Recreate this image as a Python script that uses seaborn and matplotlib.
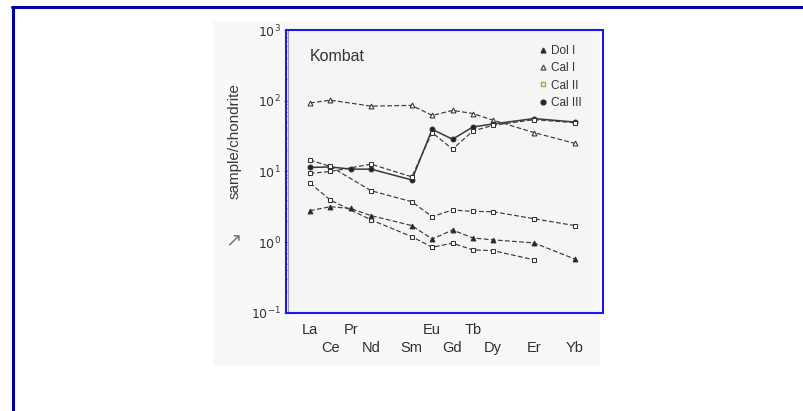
import numpy as np
import pandas as pd
import matplotlib
matplotlib.use("Agg")
import matplotlib.pyplot as plt
from matplotlib.lines import Line2D
from matplotlib.patches import Rectangle
import seaborn as sns

# ---- data ----
elements = ["La", "Ce", "Pr", "Nd", "Sm", "Eu", "Gd", "Tb", "Dy", "Er", "Yb"]
atomic_z = [57, 58, 59, 60, 62, 63, 64, 65, 66, 68, 70]
upper_row = ["La", "Pr", "Eu", "Tb"]
lower_row = ["Ce", "Nd", "Sm", "Gd", "Dy", "Er", "Yb"]

nan = np.nan
cal_i = [93, 102, nan, 84, 86, 62, 73, 66, 53, 35.5, 25]
cal_iii_a = [11.4, 11.6, 10.8, 10.8, 7.6, 39.5, 28.6, 42.6, 47, 56, 50]
cal_iii_b = [9.4, 10.0, nan, 12.7, 8.4, 35.5, 20.7, 37.4, 45, 54, 49]
cal_ii_a = [14.5, 11.8, nan, 5.35, 3.74, 2.3, 2.86, 2.73, 2.7, 2.15, 1.72]
cal_ii_b = [6.86, 3.95, nan, 2.07, 1.2, 0.85, 0.97, 0.78, 0.76, 0.565, nan]
dol_i = [2.8, 3.18, 3.0, 2.38, 1.72, 1.11, 1.49, 1.15, 1.08, 0.98, 0.58]

legend_labels = ["Dol I", "Cal I", "Cal II", "Cal III"]
y_ticks = [0.1, 1, 10, 100, 1000]
y_tick_labels = ["$10^{-1}$", "$10^{0}$", "$10^{1}$", "$10^{2}$", "$10^{3}$"]

sns.set_theme(style="white")
plt.rcParams["font.family"] = ["Liberation Sans", "DejaVu Sans"]

W, H = 804, 411
fig = plt.figure(figsize=(W / 100, H / 100), dpi=100)
fig.patch.set_facecolor("white")

def fx(px):
    return px / W

def fy(py):
    return 1 - py / H

# scanned-picture background
fig.add_artist(Rectangle((fx(213), fy(366)), fx(600) - fx(213), fy(22) - fy(366),
                         transform=fig.transFigure, facecolor="#f8f8f8",
                         edgecolor="none", zorder=0))

ax = fig.add_axes([fx(288), fy(313), fx(592) - fx(288), fy(30) - fy(313)])
ax.set_facecolor("#f5f5f5")

z_of = dict(zip(elements, atomic_z))

series = [
    ("Cal I", cal_i, "^", "white", (0, (4, 2))),
    ("Cal III a", cal_iii_a, "o", "#222222", "-"),
    ("Cal III b", cal_iii_b, "s", "white", (0, (4, 2))),
    ("Cal II a", cal_ii_a, "s", "white", (0, (4, 2))),
    ("Cal II b", cal_ii_b, "s", "white", (0, (4, 2))),
    ("Dol I", dol_i, "^", "#222222", (0, (4, 2))),
]

for name, vals, mk, mfc, ls in series:
    df = pd.DataFrame({"z": atomic_z, "value": vals}).dropna()
    sns.lineplot(data=df, x="z", y="value", ax=ax, estimator=None, sort=False,
                 color="#3a3a3a", linewidth=1.1 if ls == "-" else 0.85,
                 linestyle=ls, marker=mk, markersize=3.5,
                 markerfacecolor=mfc, markeredgecolor="#333333",
                 markeredgewidth=0.75)

ax.set_yscale("log")
ax.set_ylim(0.1, 1000)
ax.set_xlim(55.92, 70.85)
ax.set_yticks(y_ticks)
ax.set_yticklabels(y_tick_labels)
ax.yaxis.set_minor_locator(matplotlib.ticker.LogLocator(base=10, subs=np.arange(2, 10)))
ax.yaxis.set_minor_formatter(matplotlib.ticker.NullFormatter())
ax.tick_params(axis="y", which="major", length=3, width=0.8, color="#888888",
               labelsize=9, labelcolor="#333333", pad=2, left=True)
ax.tick_params(axis="y", which="minor", length=2, width=0.6, color="#aaaaaa", left=True)

ax.set_xticks([z_of[e] for e in upper_row])
ax.set_xticklabels(upper_row)
ax.set_xticks([z_of[e] for e in lower_row], minor=True)
ax.set_xticklabels(lower_row, minor=True)
ax.tick_params(axis="x", which="major", length=0, labelsize=10.5,
               labelcolor="#2e2e2e", pad=7)
ax.tick_params(axis="x", which="minor", length=0, labelsize=10.5,
               labelcolor="#2e2e2e", pad=20)
ax.set_xlabel("")
ax.set_ylabel("")

for s in ["top", "right", "bottom"]:
    ax.spines[s].set_visible(False)
ax.spines["left"].set_color("#999999")
ax.spines["left"].set_linewidth(0.8)

ax.text(0.07, 0.905, "Kombat", transform=ax.transAxes, fontsize=11.5,
        color="#333333", ha="left", va="center")

handles = [
    Line2D([], [], linestyle="none", marker="^", markersize=3.5, color="#333333",
           markerfacecolor="#222222"),
    Line2D([], [], linestyle="none", marker="^", markersize=3.5, color="#555555",
           markerfacecolor="white"),
    Line2D([], [], linestyle="none", marker="s", markersize=3.5, color="#b59a60",
           markerfacecolor="white"),
    Line2D([], [], linestyle="none", marker="o", markersize=3.5, color="#333333",
           markerfacecolor="#222222"),
]
ax.legend(handles, legend_labels, loc="upper left",
          bbox_to_anchor=(fx(534), fy(39)), bbox_transform=fig.transFigure,
          frameon=False, fontsize=8.5, handlelength=0.6, handletextpad=0.35,
          labelspacing=0.45, borderpad=0, labelcolor="#333333")

fig.text(fx(235), fy(141), "sample/chondrite", rotation=90, fontsize=11,
         color="#3a3a3a", ha="center", va="center")
fig.text(fx(233), fy(241), "\u2197", fontsize=14, color="#777777",
         ha="center", va="center")

# blue highlight box
fig.add_artist(Rectangle((fx(286), fy(313)), fx(603) - fx(286), fy(30) - fy(313),
                         transform=fig.transFigure, fill=False,
                         edgecolor="#1a1aee", linewidth=1.5, zorder=10))
# outer dark-blue frame (top and left edges)
fig.add_artist(Line2D([fx(12), 1.0], [fy(7.5), fy(7.5)], transform=fig.transFigure,
                      color="#0000a0", linewidth=2.2, zorder=10))
fig.add_artist(Line2D([fx(13), fx(13)], [fy(7.5), 0.0], transform=fig.transFigure,
                      color="#0000a0", linewidth=2.2, zorder=10))

fig.savefig("out.png", dpi=100)
